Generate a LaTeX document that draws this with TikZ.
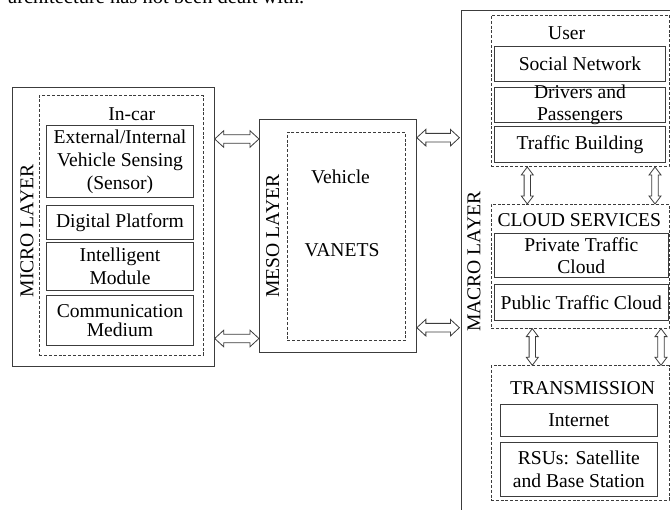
\documentclass[tikz,border=0pt]{standalone}
\usepackage{fontspec}
\setmainfont{Liberation Serif}
\usetikzlibrary{calc}
\definecolor{edge}{HTML}{3C3C3C}
\begin{document}
\begin{tikzpicture}[x=1pt,y=-1pt]
\tikzset{
  ba hl/.store in=\bahl, ba hw/.store in=\bahw, ba sw/.store in=\basw,
  ba hl=9pt, ba hw=8.3pt, ba sw=4.3pt,
  txt/.style={font=\fontsize{19.6pt}{23pt}\selectfont, align=center, inner sep=0pt, text=black},
  outerbox/.style={draw=edge, line width=0.8pt, inner sep=0pt},
  groupbox/.style={draw=edge, line width=0.7pt, dash pattern=on 3pt off 1.8pt, inner sep=0pt},
  itembox/.style={draw=edge, line width=0.8pt, txt},
  layerlabel/.style={txt, rotate=90},
  % hollow double-headed block arrow between two points
  blockarrow/.style={draw=edge, fill=white, line width=0.8pt, line join=miter, to path={
     -- ($($(\tikztostart)!\bahl!(\tikztotarget)$)!\bahw!90:(\tikztotarget)$)
     -- ($($(\tikztostart)!\bahl!(\tikztotarget)$)!\basw!90:(\tikztotarget)$)
     -- ($($(\tikztotarget)!\bahl!(\tikztostart)$)!\basw!-90:(\tikztostart)$)
     -- ($($(\tikztotarget)!\bahl!(\tikztostart)$)!\bahw!-90:(\tikztostart)$)
     -- (\tikztotarget)
     -- ($($(\tikztotarget)!\bahl!(\tikztostart)$)!\bahw!90:(\tikztostart)$)
     -- ($($(\tikztotarget)!\bahl!(\tikztostart)$)!\basw!90:(\tikztostart)$)
     -- ($($(\tikztostart)!\bahl!(\tikztotarget)$)!\basw!-90:(\tikztotarget)$)
     -- ($($(\tikztostart)!\bahl!(\tikztotarget)$)!\bahw!-90:(\tikztotarget)$)
     -- cycle}},
  vblockarrow/.style={blockarrow, ba hl=8pt, ba hw=6pt, ba sw=3.2pt}
}
\clip (0,0) rectangle (670,510);

% running text above the figure
\node[anchor=base west, inner sep=0pt, font=\fontsize{20.5pt}{24pt}\selectfont] (caption) at (8,4) {architecture has not been dealt with.};

% ---------------- micro layer ----------------
\node[outerbox, minimum width=201.8, minimum height=278.7] (micro) at (113.4,226.7) {};
\node[groupbox, minimum width=163.7, minimum height=259.3] (incar) at (121.2,225.3) {};
\node[txt] (incart) at (131.7,114.5) {In-car};
\node[itembox, minimum width=146.6, minimum height=71.7] (ext) at (120,161.6) {External/Internal\\Vehicle Sensing\\(Sensor)};
\node[itembox, minimum width=146.6, minimum height=34] (dig) at (120,222.3) {Digital Platform};
\node[itembox, minimum width=146.6, minimum height=48] (intm) at (120,266.7) {Intelligent\\Module};
\node[itembox, minimum width=146.6, minimum height=49.5, font=\fontsize{19.6pt}{19pt}\selectfont] (com) at (120,320.2) {Communication\\Medium};
\node[layerlabel] (microt) at (27,231) {MICRO LAYER};

% ---------------- meso layer ----------------
\node[outerbox, minimum width=156.7, minimum height=233.3] (meso) at (337.7,235.7) {};
\node[groupbox, minimum width=117.7, minimum height=208.4] (mesoin) at (346.2,236.5) {};
\node[txt] (veh) at (340.5,177.3) {Vehicle};
\node[txt] (van) at (342,250) {VANETS};
\node[layerlabel] (mesot) at (272.7,236) {MESO LAYER};

% ---------------- macro layer ----------------
\node[outerbox, minimum width=239, minimum height=519.3] (macro) at (580.5,270) {};
\node[layerlabel] (macrot) at (474,261.7) {MACRO LAYER};

\node[groupbox, minimum width=178, minimum height=151.7] (user) at (580,90.8) {};
\node[txt] (usert) at (566.7,33) {User};
\node[itembox, minimum width=171.4, minimum height=35] (soc) at (580,64.2) {Social Network};
\node[itembox, minimum width=171.4, minimum height=35.4] (drv) at (580,105) {};
\node[txt, font=\fontsize{19.6pt}{21.7pt}\selectfont] (drvt) at (drv.center) {Drivers and\\Passengers};
\node[itembox, minimum width=171.4, minimum height=35.6] (trb) at (580,144.5) {Traffic Building};

\node[groupbox, minimum width=178, minimum height=124] (cloud) at (580,266.3) {};
\node[txt] (cloudt) at (579.3,220) {CLOUD SERVICES};
\node[itembox, minimum width=174, minimum height=44.4, font=\fontsize{19.6pt}{21.7pt}\selectfont] (prv) at (581.3,255.5) {Private Traffic\\Cloud};
\node[itembox, minimum width=174, minimum height=36.7] (pub) at (581.3,302.3) {Public Traffic Cloud};

\node[groupbox, minimum width=178, minimum height=134.3] (trans) at (580,432.8) {};
\node[txt] (transt) at (582.5,388.3) {TRANSMISSION};
\node[itembox, minimum width=157.7, minimum height=31.7] (inet) at (578.8,420.2) {Internet};
\node[itembox, minimum width=157.7, minimum height=53.3] (rsu) at (578.8,469.3) {RSUs: Satellite\\and Base Station};

% ---------------- connectors ----------------
\coordinate (a1s) at (micro.east |- 0,139);
\coordinate (a1e) at (meso.west |- 0,139);
\coordinate (a2s) at (micro.east |- 0,338.5);
\coordinate (a2e) at (meso.west |- 0,338.5);
\coordinate (a3s) at (meso.east |- 0,137.7);
\coordinate (a3e) at (macro.west |- 0,137.7);
\coordinate (a4s) at (meso.east |- 0,327.7);
\coordinate (a4e) at (macro.west |- 0,327.7);
\draw[blockarrow] (a1s) to (a1e);
\draw[blockarrow] (a2s) to (a2e);
\draw[blockarrow] ([xshift=0.4pt]a3s) to ([xshift=-1.2pt]a3e);
\draw[blockarrow] ([xshift=0.4pt]a4s) to ([xshift=-1.2pt]a4e);

\coordinate (v1s) at (user.south -| 527.3,0);
\coordinate (v1e) at (cloud.north -| 527.3,0);
\coordinate (v2s) at (user.south -| 655,0);
\coordinate (v2e) at (cloud.north -| 655,0);
\coordinate (v3s) at (cloud.south -| 532.3,0);
\coordinate (v3e) at (trans.north -| 532.3,0);
\coordinate (v4s) at (cloud.south -| 661,0);
\coordinate (v4e) at (trans.north -| 661,0);
\draw[vblockarrow] (v1s) to (v1e);
\draw[vblockarrow] (v2s) to (v2e);
\draw[vblockarrow] (v3s) to (v3e);
\draw[vblockarrow] (v4s) to (v4e);
\end{tikzpicture}
\end{document}
